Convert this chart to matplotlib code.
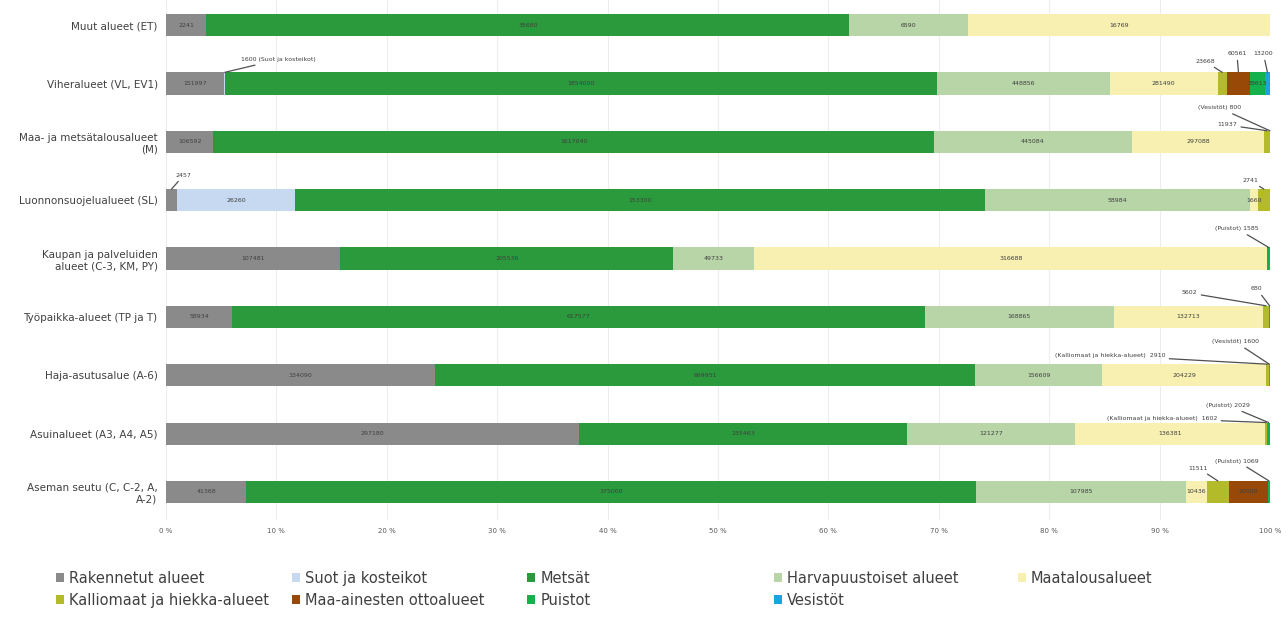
import matplotlib
matplotlib.use("Agg")
import matplotlib.pyplot as plt
from matplotlib.patches import Patch
import numpy as np

# Kaavan aluevaraukset, ylhäältä alas
categories = ["Muut alueet (ET)", "Viheralueet (VL, EV1)", "Maa- ja metsätalousalueet\n(M)",
              "Luonnonsuojelualueet (SL)", "Kaupan ja palveluiden\nalueet (C-3, KM, PY)",
              "Työpaikka-alueet (TP ja T)", "Haja-asutusalue (A-6)", "Asuinalueet (A3, A4, A5)",
              "Aseman seutu (C, C-2, A,\nA-2)"]

series_names = ["Rakennetut alueet", "Suot ja kosteikot", "Metsät", "Harvapuustoiset alueet",
                "Maatalousalueet", "Kalliomaat ja hiekka-alueet", "Maa-ainesten ottoalueet",
                "Puistot", "Vesistöt"]

rakennetut = [2241, 151997, 106592, 2457, 107481, 58934, 334090, 297180, 41368]
suot = [0, 1600, 0, 26260, 0, 0, 0, 0, 0]
metsat = [35680, 1854000, 1617040, 153300, 205536, 617577, 669951, 235463, 375000]
harva = [6590, 448856, 445084, 58984, 49733, 168865, 156609, 121277, 107985]
maatalous = [16769, 281490, 297088, 1660, 316688, 132713, 204229, 136381, 10436]
kallio = [0, 23668, 11937, 2741, 0, 5602, 2910, 1602, 11511]
ottoalueet = [0, 60561, 0, 0, 0, 0, 0, 0, 20000]
puistot = [0, 38613, 0, 0, 1585, 680, 0, 2029, 1069]
vesistot = [0, 13200, 800, 0, 0, 0, 1600, 0, 0]

colors = ["#8a8a8a", "#c6d9f1", "#2a9a3c", "#b7d5a6", "#f7f0b0",
          "#b3bb2b", "#984807", "#14b24c", "#1aa3dc"]

# pienet osuudet, jotka on merkitty viivalla palkin ulkopuolelle:
# (rivi, sarja, teksti, tekstin x %, tekstin y, tasaus)
callouts = [
    (1, 1, "1600 (Suot ja kosteikot)", 6.8, 0.59, "left"),
    (1, 5, "23668", 95.0, 0.62, "right"),
    (1, 6, "60561", 97.0, 0.49, "center"),
    (1, 8, "13200", 99.4, 0.49, "center"),
    (2, 5, "11937", 97.0, 1.71, "right"),
    (2, 8, "(Vesistöt) 800", 97.4, 1.42, "right"),
    (3, 0, "2457", 0.9, 2.57, "left"),
    (3, 5, "2741", 98.2, 2.66, "center"),
    (4, 7, "(Puistot) 1585", 99.0, 3.49, "right"),
    (5, 5, "5602", 93.4, 4.59, "right"),
    (5, 7, "680", 98.8, 4.52, "center"),
    (6, 8, "(Vesistöt) 1600", 99.0, 5.43, "right"),
    (6, 5, "(Kalliomaat ja hiekka-alueet)  2910", 90.5, 5.66, "right"),
    (7, 7, "(Puistot) 2029", 98.2, 6.52, "right"),
    (7, 5, "(Kalliomaat ja hiekka-alueet)  1602", 95.2, 6.74, "right"),
    (8, 5, "11511", 93.5, 7.59, "center"),
    (8, 7, "(Puistot) 1069", 99.0, 7.47, "right"),
]

data = np.array([rakennetut, suot, metsat, harva, maatalous, kallio, ottoalueet, puistot, vesistot],
                dtype=float)
pct = data / data.sum(axis=0) * 100
left = np.vstack([np.zeros(len(categories)), np.cumsum(pct, axis=0)[:-1]])

fig = plt.figure(figsize=(12.87, 6.17), dpi=100)
ax = fig.add_axes([166 / 1287, 97 / 617, 1104 / 1287, 520 / 617])

y = np.arange(len(categories))
bar_h = 0.38
for k in range(len(series_names)):
    ax.barh(y, pct[k], left=left[k], height=bar_h, color=colors[k], zorder=2)

called = {(c[0], c[1]) for c in callouts}
for k in range(len(series_names)):
    for i in range(len(categories)):
        if data[k, i] == 0 or (i, k) in called:
            continue
        ax.text(left[k, i] + pct[k, i] / 2, i, f"{int(data[k, i])}", ha="center", va="center",
                fontsize=4.5, color="#404040", zorder=3)

for i, k, txt, tx, ty, ha in callouts:
    mid = left[k, i] + pct[k, i] / 2
    ax.annotate(txt, xy=(mid, i - bar_h / 2), xytext=(tx, ty), ha=ha, va="center",
                fontsize=4.5, color="#404040",
                arrowprops=dict(arrowstyle="-", color="#505050", lw=0.9, shrinkA=1, shrinkB=0),
                zorder=4)

ax.set_xlim(0, 100)
ax.set_ylim(8.48, -0.43)
ax.set_xticks(np.arange(0, 101, 10))
ax.set_xticklabels([f"{v} %" for v in range(0, 101, 10)], fontsize=5, color="#595959")
ax.set_yticks(y)
ax.set_yticklabels(categories, fontsize=7.5, color="#404040")
ax.tick_params(length=0, pad=6)
ax.xaxis.grid(True, color="#ededed", lw=0.8, zorder=0)
ax.set_axisbelow(True)
for s in ax.spines.values():
    s.set_visible(False)

# selite viidessä sarakkeessa
handles = [Patch(facecolor=c, edgecolor="none") for c in colors]
col_groups = [[0, 5], [1, 6], [2, 7], [3, 8], [4]]
col_x = [56, 292, 527, 774, 1018]
for grp, cx in zip(col_groups, col_x):
    fig.legend([handles[j] for j in grp], [series_names[j] for j in grp], loc="upper left",
               bbox_to_anchor=(cx / 1287, 1 - 571 / 617), frameon=False, fontsize=10.5,
               handlelength=0.55, handleheight=0.55, handletextpad=0.35, labelspacing=0.45,
               borderpad=0, borderaxespad=0, labelcolor="#404040")

fig.savefig("out.png", dpi=100, facecolor="white")
